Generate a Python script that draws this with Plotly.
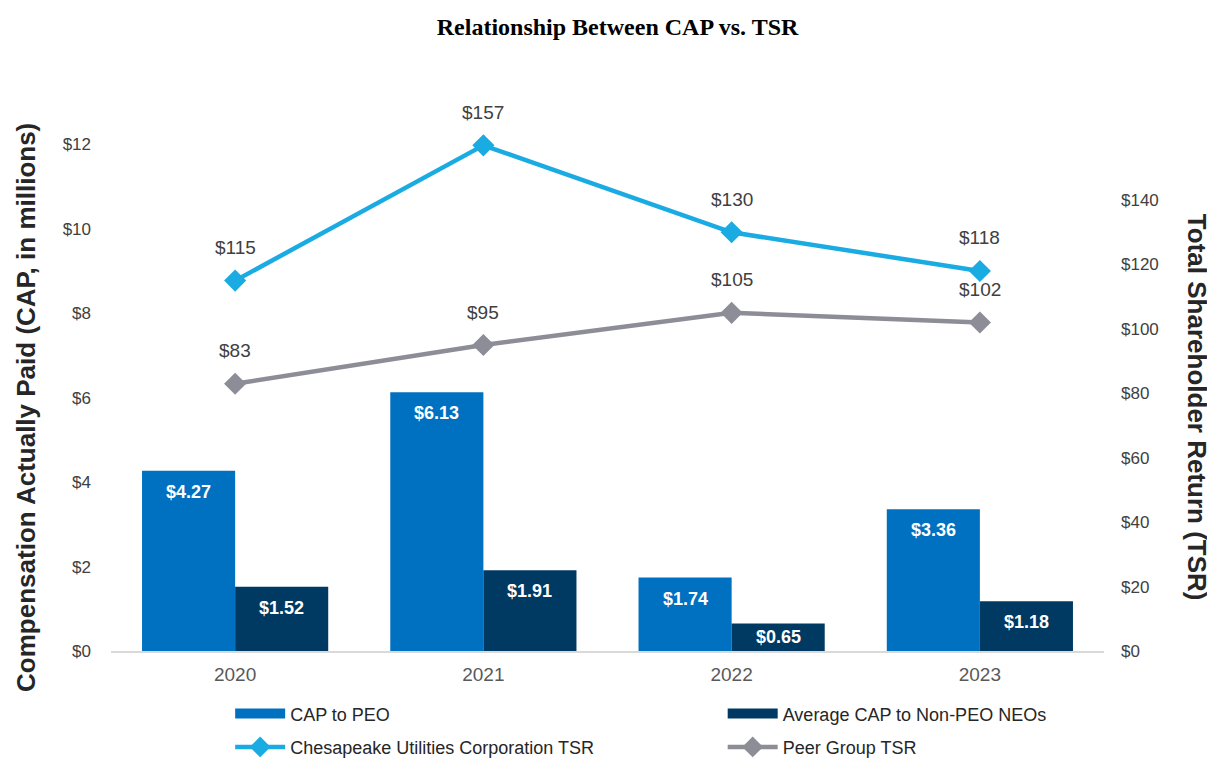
import plotly.graph_objects as go

# Chart data
years = ["2020", "2021", "2022", "2023"]
cap_peo = [4.27, 6.13, 1.74, 3.36]
cap_neo = [1.52, 1.91, 0.65, 1.18]
tsr_company = [115, 157, 130, 118]
tsr_peer = [83, 95, 105, 102]

left_ticks = [0, 2, 4, 6, 8, 10, 12]
right_ticks = [0, 20, 40, 60, 80, 100, 120, 140]

colors = {
    'peo': '#0070C0',
    'neo': '#003A63',
    'company': '#1AABE3',
    'peer': '#8C8D96',
}

FONT = "Liberation Sans, Arial"
BAR_GAP = 0.25
half_bar = (1 - BAR_GAP) / 4  # offset of each bar centre from the category centre

LEFT_RANGE = [0, 14]
PLOT_HEIGHT = 754 - 52 - 111
px_per_unit = PLOT_HEIGHT / (LEFT_RANGE[1] - LEFT_RANGE[0])

fig = go.Figure()

# bars (legend entries drawn by the wide swatch traces below)
fig.add_trace(go.Bar(
    x=years, y=cap_peo, name="CAP to PEO", legendgroup="a", showlegend=False,
    marker_color=colors['peo'], marker_line_width=0,
))
fig.add_trace(go.Bar(
    x=years, y=cap_neo, name="Average CAP to Non-PEO NEOs", legendgroup="b", showlegend=False,
    marker_color=colors['neo'], marker_line_width=0,
))
fig.add_trace(go.Scatter(
    x=years, y=tsr_company, name="Chesapeake Utilities Corporation TSR",
    mode="lines+markers", yaxis="y2", legend="legend", legendgroup="c", legendrank=2,
    line=dict(color=colors['company'], width=4.5),
    marker=dict(symbol="diamond", size=17, color=colors['company']),
))
fig.add_trace(go.Scatter(
    x=years, y=tsr_peer, name="Peer Group TSR",
    mode="lines+markers", yaxis="y2", legend="legend2", legendgroup="d", legendrank=2,
    line=dict(color=colors['peer'], width=4.5),
    marker=dict(symbol="diamond", size=17, color=colors['peer']),
))

# wide rectangular legend swatches for the bar series, like the original
fig.add_trace(go.Scatter(
    x=[None], y=[None], mode="lines", name="CAP to PEO",
    legend="legend", legendgroup="a", legendrank=1,
    line=dict(color=colors['peo'], width=10),
))
fig.add_trace(go.Scatter(
    x=[None], y=[None], mode="lines", name="Average CAP to Non-PEO NEOs",
    legend="legend2", legendgroup="b", legendrank=1,
    line=dict(color=colors['neo'], width=10),
))

annotations = []

# bar value labels, inside near the top of each bar (centred if the bar is short)
for i, (a, b) in enumerate(zip(cap_peo, cap_neo)):
    for val, off in ((a, -half_bar), (b, half_bar)):
        annotations.append(dict(
            x=i + off, y=val, xref="x", yref="y",
            text=f"<b>${val:.2f}</b>", showarrow=False,
            yshift=-min(21, val * px_per_unit / 2),
            font=dict(family=FONT, size=18, color="white"),
        ))

# TSR labels above markers
for series in (tsr_company, tsr_peer):
    for i, val in enumerate(series):
        annotations.append(dict(
            x=i, y=val, xref="x", yref="y2",
            text=f"${val}", showarrow=False, yshift=33,
            font=dict(family=FONT, size=19, color="#404040"),
        ))

# axis titles
annotations.append(dict(
    text="<b>Compensation Actually Paid (CAP, in millions)</b>",
    xref="paper", yref="paper", x=-0.0856, y=0.413, textangle=-90,
    showarrow=False, xanchor="center", yanchor="middle",
    font=dict(family=FONT, size=26, color="#262626"),
))
annotations.append(dict(
    text="<b>Total Shareholder Return (TSR)</b>",
    xref="paper", yref="paper", x=1.0937, y=0.413, textangle=90,
    showarrow=False, xanchor="center", yanchor="middle",
    font=dict(family=FONT, size=26, color="#262626"),
))

legend_style = dict(
    orientation="v", yanchor="top", y=-0.075, xanchor="left",
    itemwidth=50, tracegroupgap=7, bgcolor="rgba(0,0,0,0)",
    font=dict(family="Liberation Sans Narrow, Arial Narrow, Liberation Sans", size=18, color="#262626"),
)

# the page body adds an 8px offset, so the figure is 8px smaller each way
fig.update_layout(
    width=1207, height=754,
    margin=dict(l=103, r=111, t=52, b=111, autoexpand=False),
    paper_bgcolor="white", plot_bgcolor="white",
    barmode="group", bargap=BAR_GAP, bargroupgap=0,
    title=dict(
        text="<b>Relationship Between CAP vs. TSR</b>",
        x=0.505, xanchor="center", y=0.975, yanchor="middle",
        font=dict(family="Liberation Serif, Times New Roman", size=24, color="black"),
    ),
    xaxis=dict(
        showgrid=False, showline=True, linecolor="#D9D9D9", linewidth=1.5,
        ticks="", tickfont=dict(family=FONT, size=19, color="#595959"),
        ticklabelstandoff=5,
    ),
    yaxis=dict(
        range=LEFT_RANGE, showgrid=False, zeroline=False,
        tickvals=left_ticks, ticktext=[f"${v}" for v in left_ticks],
        tickfont=dict(family=FONT, size=17, color="#404040"),
        ticklabelstandoff=19,
    ),
    yaxis2=dict(
        range=[0, 183.5], overlaying="y", side="right", showgrid=False, zeroline=False,
        tickvals=right_ticks, ticktext=[f"${v}" for v in right_ticks],
        tickfont=dict(family=FONT, size=17, color="#404040"),
        ticklabelstandoff=16,
    ),
    legend=dict(legend_style, x=0.12),
    legend2=dict(legend_style, x=0.616),
    annotations=annotations,
    showlegend=True,
)

fig.write_html("out.html")
